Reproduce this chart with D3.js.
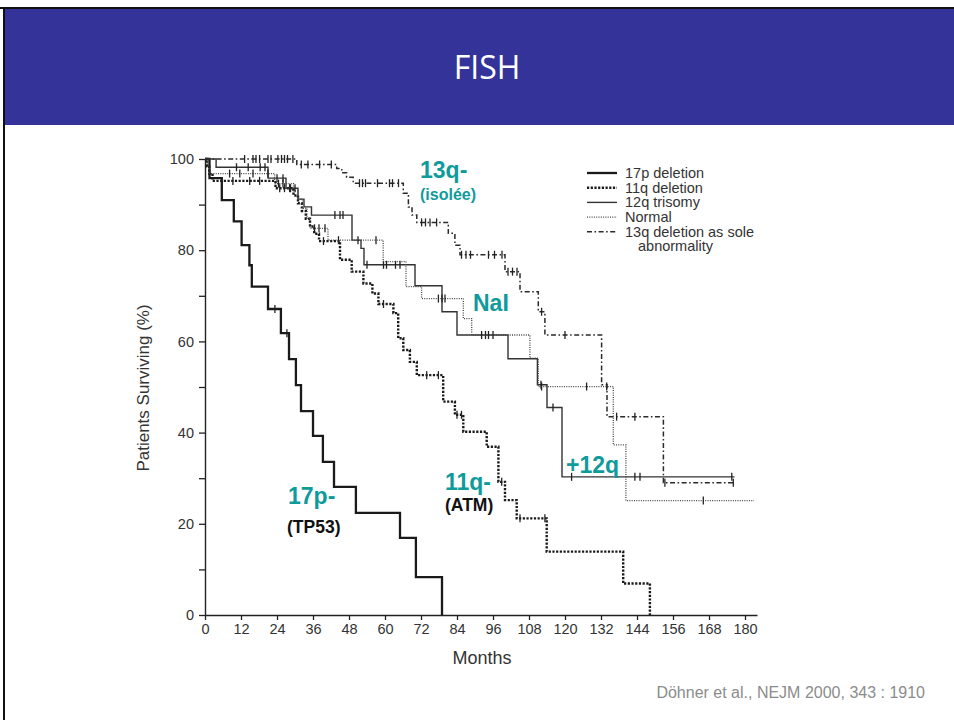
<!DOCTYPE html>
<html>
<head>
<meta charset="utf-8">
<script src="https://cdn.jsdelivr.net/npm/d3@7"></script>
<style>
  html, body { margin: 0; padding: 0; background: #fff; }
  svg { display: block; }
</style>
</head>
<body>
<svg id="slide" width="954" height="720"></svg>
<script>
// Kaplan-Meier survival by FISH genomic group (Döhner et al., NEJM 2000)
// Each group: step points [month, % surviving], censored months, last follow-up month.

const monthTicks = [0, 12, 24, 36, 48, 60, 72, 84, 96, 108, 120, 132, 144, 156, 168, 180];
const percentTicks = [0, 10, 20, 30, 40, 50, 60, 70, 80, 90, 100];
const percentLabels = [0, 20, 40, 60, 80, 100];

const del17pSteps = [[0,100],[1.5,95.8],[5.6,91.0],[9.6,86.3],[12.2,81.1],[14.8,76.7],[15.6,72.0],
  [21.0,67.1],[25.3,61.8],[28.0,56.1],[30.3,50.4],[32.0,44.7],[36.0,39.3],[39.3,33.6],[43.0,28.1],
  [50.3,22.4],[65.0,16.9],[70.3,8.3],[79.0,0]];
const del17pCensored = [23.3, 27.3];
const del17pEnd = 79.0;

const del11qSteps = [[0,100],[0.7,98.4],[1.4,96.8],[2.5,95.2],[23.5,93.6],[29.5,92.0],[31.0,90.3],
  [32.3,88.6],[33.6,86.9],[35.0,85.2],[36.4,83.6],[38.0,82.0],[45.0,77.9],[48.9,75.3],[52.8,72.7],
  [55.8,70.5],[57.8,68.2],[62.8,66.2],[64.4,60.7],[66.1,58.1],[68.3,55.5],[70.6,52.6],[79.4,46.8],
  [83.3,43.9],[86.1,40.2],[93.9,36.9],[97.8,29.2],[100.0,25.2],[103.9,21.2],[113.9,13.9],
  [139.4,6.9],[148.3,0]];
const del11qCensored = [9.3, 14.9, 18.2, 24.9, 26.5, 28.2, 39.5, 59.5, 73.9, 77.8, 84.0, 85.5,
  98.9, 105.0, 113.3];
const del11qEnd = 148.3;

const tri12qSteps = [[0,100],[3.7,98.2],[21.0,95.8],[27.0,93.6],[31.0,91.2],[33.0,89.5],[35.5,87.7],
  [49.0,82.2],[52.0,80.4],[53.0,76.8],[70.0,72.2],[79.0,66.5],[84.0,61.4],[101.0,56.2],
  [110.8,50.5],[114.0,45.5],[119.0,30.3]];
const tri12qCensored = [10.5, 14.4, 18.4, 20.0, 24.0, 26.0, 28.5, 30.0, 43.3, 45.0, 46.0, 54.0,
  59.5, 60.5, 63.5, 65.0, 92.2, 93.5, 94.5, 96.0, 112.0, 116.0, 122.2, 143.3, 145.0, 175.6];
const tri12qEnd = 176.5;

const normalSteps = [[0,100],[0.8,98.4],[1.6,96.8],[23.2,94.6],[29.5,93.0],[31.0,91.2],[32.5,89.2],
  [34.0,87.0],[35.0,84.8],[41.0,82.2],[59.4,77.5],[67.0,72.0],[72.2,69.4],[86.1,65.0],[88.9,61.4],
  [108.3,56.3],[111.1,50.1],[136.1,37.3],[140.3,25.1]];
const normalCensored = [8.2, 11.6, 16.0, 21.0, 24.5, 26.0, 36.5, 38.0, 40.0, 44.5, 51.0, 57.0,
  77.8, 79.0, 80.0, 112.2, 127.2, 133.9, 166.1];
const normalEnd = 183.0;

const del13qSteps = [[0,100],[30.6,98.8],[43.9,97.9],[45.6,97.0],[47.2,96.0],[49.4,94.7],
  [66.1,92.5],[67.8,89.5],[69.0,87.7],[70.6,86.1],[81.1,83.7],[83.3,81.1],[85.0,79.0],
  [100.0,75.3],[105.0,70.9],[111.1,66.5],[113.3,61.4],[132.2,50.5],[134.0,43.5],[152.8,29.0]];
const del13qCensored = [13.2, 16.0, 17.0, 18.2, 21.0, 22.0, 24.3, 25.5, 26.5, 27.5, 29.3, 32.1,
  34.3, 38.2, 42.1, 51.5, 52.5, 53.5, 57.5, 61.5, 62.5, 64.5, 72.2, 73.5, 75.0, 77.2, 85.5, 87.0,
  88.5, 94.5, 96.5, 99.0, 101.0, 102.5, 104.0, 112.2, 120.0, 137.2, 143.3, 153.3, 176.1];
const del13qEnd = 176.7;

const groups = [
  { name: "17p deletion", steps: del17pSteps, censored: del17pCensored, end: del17pEnd,
    width: 2.3, dash: null, color: "#1a1a1a" },
  { name: "11q deletion", steps: del11qSteps, censored: del11qCensored, end: del11qEnd,
    width: 2.4, dash: "2.2,1.5", color: "#1a1a1a" },
  { name: "12q trisomy", steps: tri12qSteps, censored: tri12qCensored, end: tri12qEnd,
    width: 1.4, dash: null, color: "#333" },
  { name: "Normal", steps: normalSteps, censored: normalCensored, end: normalEnd,
    width: 1.3, dash: "1,1.3", color: "#444" },
  { name: "13q deletion as sole", name2: "abnormality", steps: del13qSteps, censored: del13qCensored,
    end: del13qEnd, width: 1.5, dash: "5,2.5,1.6,2.5", color: "#2a2a2a" }
];

const svg = d3.select("#slide");

// Slide frame and title band
svg.append("rect").attr("x", 0).attr("y", 7).attr("width", 954).attr("height", 2).attr("fill", "#111");
svg.append("rect").attr("x", 3).attr("y", 7).attr("width", 2).attr("height", 713).attr("fill", "#111");
svg.append("rect").attr("x", 5).attr("y", 9).attr("width", 949).attr("height", 116).attr("fill", "#333399");
svg.append("text").attr("x", 487).attr("y", 79).attr("text-anchor", "middle")
  .attr("font-family", "'Open Sans', 'Noto Sans', sans-serif").attr("font-size", 32)
  .attr("fill", "#fff").text("FISH");

// Scales (3 px per month, 4.56 px per percent)
const x = d3.scaleLinear().domain([0, 184]).range([205, 757]);
const y = d3.scaleLinear().domain([0, 100]).range([615, 159]);

const fontAxis = "'Liberation Sans', Arial, Helvetica, sans-serif";

// Axes
const xAxis = svg.append("g").attr("transform", "translate(0,615)")
  .call(d3.axisBottom(x).tickValues(monthTicks).tickSize(5).tickSizeOuter(0).tickPadding(4));
const yAxis = svg.append("g").attr("transform", "translate(205,0)")
  .call(d3.axisLeft(y).tickValues(percentTicks).tickSize(6).tickSizeOuter(0).tickPadding(5)
    .tickFormat(d => percentLabels.includes(d) ? d : ""));
[xAxis, yAxis].forEach(g => {
  g.selectAll("path.domain").attr("stroke", "#222").attr("stroke-width", 1.4);
  g.selectAll(".tick line").attr("stroke", "#222").attr("stroke-width", 1.3);
  g.selectAll(".tick text").attr("font-family", fontAxis).attr("font-size", 14.5).attr("fill", "#333");
});

svg.append("text").attr("x", 482).attr("y", 664).attr("text-anchor", "middle")
  .attr("font-family", fontAxis).attr("font-size", 18).attr("fill", "#333").text("Months");
svg.append("text").attr("transform", "translate(149,388) rotate(-90)").attr("text-anchor", "middle")
  .attr("font-family", fontAxis).attr("font-size", 17).attr("fill", "#333").text("Patients Surviving (%)");

// Survival curves
const line = d3.line().x(d => x(d[0])).y(d => y(d[1])).curve(d3.curveStepAfter);
function survivalAt(steps, t) {
  let s = steps[0][1];
  for (const [tm, v] of steps) { if (tm <= t) s = v; }
  return s;
}

groups.forEach(g => {
  const last = g.steps[g.steps.length - 1];
  const pts = g.steps.slice();
  if (last[0] < g.end) pts.push([g.end, last[1]]);
  svg.append("path").attr("d", line(pts)).attr("fill", "none")
    .attr("stroke", g.color).attr("stroke-width", g.width)
    .attr("stroke-dasharray", g.dash);
  svg.append("g").selectAll("line").data(g.censored).join("line")
    .attr("x1", d => x(d)).attr("x2", d => x(d))
    .attr("y1", d => y(survivalAt(g.steps, d)) - 4)
    .attr("y2", d => y(survivalAt(g.steps, d)) + 4)
    .attr("stroke", "#222").attr("stroke-width", 1.3);
});

// Legend
const legend = svg.append("g").attr("transform", "translate(587,173)");
groups.forEach((g, i) => {
  const row = legend.append("g").attr("transform", `translate(0,${i * 14.7})`);
  row.append("line").attr("x1", 0).attr("x2", 30).attr("y1", 0).attr("y2", 0)
    .attr("stroke", g.color).attr("stroke-width", g.width).attr("stroke-dasharray", g.dash);
  row.append("text").attr("x", 38).attr("y", 5).attr("font-family", fontAxis)
    .attr("font-size", 14.5).attr("fill", "#333").text(g.name);
  if (g.name2) {
    row.append("text").attr("x", 51).attr("y", 19.5).attr("font-family", fontAxis)
      .attr("font-size", 14.5).attr("fill", "#333").text(g.name2);
  }
});

// Group annotations
const teal = "#0f9b9b";
const notes = [
  { text: "13q-", x: 420, y: 178, size: 23, color: teal },
  { text: "(isolée)", x: 420, y: 200, size: 16, color: teal },
  { text: "NaI", x: 473, y: 311, size: 23, color: teal },
  { text: "+12q", x: 566, y: 473, size: 23, color: teal },
  { text: "11q-", x: 445, y: 490, size: 23, color: teal },
  { text: "(ATM)", x: 445, y: 511, size: 17.5, color: "#111" },
  { text: "17p-", x: 288, y: 504, size: 23, color: teal },
  { text: "(TP53)", x: 287, y: 533, size: 17.5, color: "#111" }
];
svg.append("g").selectAll("text").data(notes).join("text")
  .attr("x", d => d.x).attr("y", d => d.y)
  .attr("font-family", fontAxis).attr("font-weight", "bold")
  .attr("font-size", d => d.size).attr("fill", d => d.color).text(d => d.text);

// Source
svg.append("text").attr("x", 925).attr("y", 698).attr("text-anchor", "end")
  .attr("font-family", fontAxis).attr("font-size", 16).attr("fill", "#8c8c8c")
  .text("Döhner et al., NEJM 2000, 343 : 1910");
</script>
</body>
</html>
